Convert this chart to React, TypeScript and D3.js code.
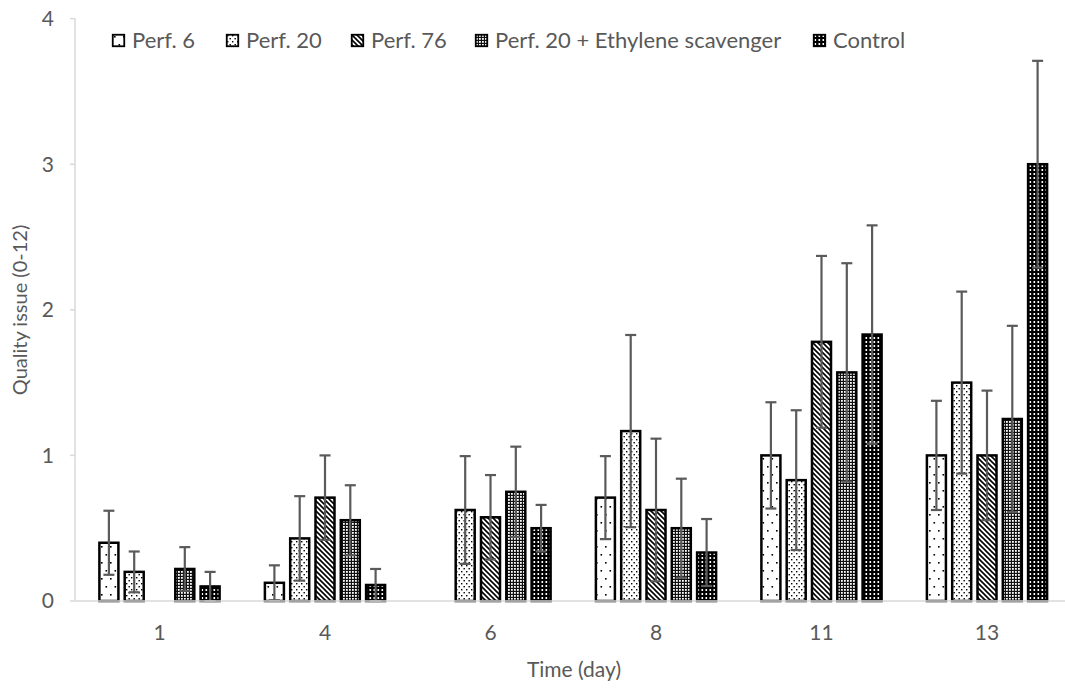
import React from 'react';
import * as d3 from 'd3';

// Sampling days (x categories)
const days = ['1', '4', '6', '8', '11', '13'];

// Series names, in drawing order
const seriesNames = ['Perf. 6', 'Perf. 20', 'Perf. 76', 'Perf. 20 + Ethylene scavenger', 'Control'];

// Mean quality-issue scores per day
const perf6 = [0.4, 0.125, 0, 0.71, 1.0, 1.0];
const perf20 = [0.2, 0.43, 0.625, 1.167, 0.83, 1.5];
const perf76 = [0, 0.71, 0.575, 0.625, 1.78, 1.0];
const scavenger = [0.22, 0.555, 0.75, 0.5, 1.57, 1.25];
const control = [0.1, 0.11, 0.5, 0.333, 1.83, 3.0];

// Error (± deviation) per day
const perf6Err = [0.22, 0.12, 0, 0.285, 0.365, 0.375];
const perf20Err = [0.14, 0.29, 0.37, 0.66, 0.48, 0.625];
const perf76Err = [0, 0.29, 0.29, 0.49, 0.59, 0.445];
const scavengerErr = [0.15, 0.24, 0.31, 0.34, 0.75, 0.64];
const controlErr = [0.1, 0.11, 0.16, 0.23, 0.75, 0.71];

const yTicks = [0, 1, 2, 3, 4];

const seriesValues = [perf6, perf20, perf76, scavenger, control];
const seriesErrors = [perf6Err, perf20Err, perf76Err, scavengerErr, controlErr];
const patternIds = ['pPerf6', 'pPerf20', 'pPerf76', 'pScav', 'pCtrl'];

// Layout
const W = 1065;
const H = 688;
const axisX = 75;
const baseY = 601;
const topY = 18.6;
const legendX = [112, 226, 351, 475, 813];
const FONT = 'Lato, "Open Sans", sans-serif';
const TEXT = '#595959';
const AXIS = '#d9d9d9';

export default function App() {
  const y = d3.scaleLinear().domain([0, 4]).range([baseY, topY]);
  const x = d3.scaleBand<string>().domain(days).range([76.75, 1069.75]).paddingInner(0).paddingOuter(0);
  const groupHalf = 63.25;
  const inner = d3
    .scaleBand<string>()
    .domain(seriesNames)
    .range([-groupHalf, groupHalf])
    .paddingInner(0.15)
    .paddingOuter(0.075);
  const bw = inner.bandwidth();
  const sw = 2.5;
  const cap = 11;

  const bars: React.ReactNode[] = [];
  const errs: React.ReactNode[] = [];
  seriesNames.forEach((name, si) => {
    days.forEach((day, di) => {
      const v = seriesValues[si][di];
      if (!v) return;
      const e = seriesErrors[si][di];
      const cx = (x(day) as number) + x.bandwidth() / 2 + (inner(name) as number) + bw / 2;
      const left = cx - bw / 2 + sw / 2;
      const top = y(v);
      bars.push(
        <rect
          key={`b-${si}-${di}`}
          x={left}
          y={top}
          width={bw - sw}
          height={baseY - top}
          fill={`url(#${patternIds[si]})`}
          stroke="#000"
          strokeWidth={sw}
        />
      );
      if (e) {
        const yHi = y(v + e);
        const yLo = y(Math.max(0, v - e));
        errs.push(
          <g key={`e-${si}-${di}`} stroke="#5a5a5a" strokeWidth={2.2}>
            <line x1={cx} x2={cx} y1={yHi} y2={yLo} />
            <line x1={cx - cap / 2} x2={cx + cap / 2} y1={yHi} y2={yHi} />
            <line x1={cx - cap / 2} x2={cx + cap / 2} y1={yLo} y2={yLo} />
          </g>
        );
      }
    });
  });

  return (
    <svg
      width={W}
      height={H}
      style={{ position: 'fixed', left: 0, top: 0, background: '#fff' }}
      fontFamily={FONT}
    >
      <defs>
        <pattern id="pPerf6" width={9} height={16} patternUnits="userSpaceOnUse">
          <rect width={9} height={16} fill="#fff" />
          <rect x={2} y={2} width={1.6} height={1.6} fill="#000" />
          <rect x={6.5} y={10} width={1.6} height={1.6} fill="#000" />
        </pattern>
        <pattern id="pPerf20" width={5} height={6} patternUnits="userSpaceOnUse">
          <rect width={5} height={6} fill="#fff" />
          <rect x={1} y={1} width={1.4} height={1.4} fill="#000" />
          <rect x={3.5} y={4} width={1.4} height={1.4} fill="#000" />
        </pattern>
        <pattern id="pPerf76" width={5} height={5} patternUnits="userSpaceOnUse">
          <rect width={5} height={5} fill="#fff" />
          <path d="M-1,-1 L6,6 M-1,4 L1,6 M4,-1 L6,1" stroke="#000" strokeWidth={1.6} />
        </pattern>
        <pattern id="pScav" width={3} height={3} patternUnits="userSpaceOnUse">
          <rect width={3} height={3} fill="#111" />
          <rect x={1} y={1} width={1.8} height={1.8} fill="#fff" />
        </pattern>
        <pattern id="pCtrl" width={4} height={4} patternUnits="userSpaceOnUse">
          <rect width={4} height={4} fill="#000" />
          <rect x={1.5} y={1} width={1.6} height={2} fill="#fff" />
        </pattern>
      </defs>

      {/* axes */}
      <line x1={axisX} x2={axisX} y1={topY} y2={baseY} stroke={AXIS} strokeWidth={1.5} />
      {yTicks.map((t) => (
        <g key={`yt-${t}`}>
          <line x1={axisX - 5} x2={axisX} y1={y(t)} y2={y(t)} stroke={AXIS} strokeWidth={1.5} />
          <text x={54} y={y(t)} dy="0.35em" textAnchor="end" fontSize={21} fill={TEXT}>
            {t}
          </text>
        </g>
      ))}

      {bars}
      {errs}

      <line x1={axisX} x2={W} y1={baseY} y2={baseY} stroke={AXIS} strokeWidth={1.5} />

      {days.map((d) => (
        <text
          key={`xt-${d}`}
          x={(x(d) as number) + x.bandwidth() / 2}
          y={640}
          textAnchor="middle"
          fontSize={21}
          fill={TEXT}
        >
          {d}
        </text>
      ))}

      <text x={574} y={677} textAnchor="middle" fontSize={21} fill={TEXT}>
        Time (day)
      </text>
      <text
        transform={`translate(27, ${310}) rotate(-90)`}
        textAnchor="middle"
        fontSize={20}
        fill={TEXT}
      >
        Quality issue (0-12)
      </text>

      {/* legend */}
      {seriesNames.map((name, si) => (
        <g key={`lg-${si}`} transform={`translate(${legendX[si]}, 34)`}>
          <rect x={0.75} y={0.75} width={11.5} height={11.5} fill={`url(#${patternIds[si]})`} stroke="#000" strokeWidth={1.8} />
          <text x={20} y={6.5} dy="0.35em" fontSize={22} fill={TEXT}>
            {name}
          </text>
        </g>
      ))}
    </svg>
  );
}
